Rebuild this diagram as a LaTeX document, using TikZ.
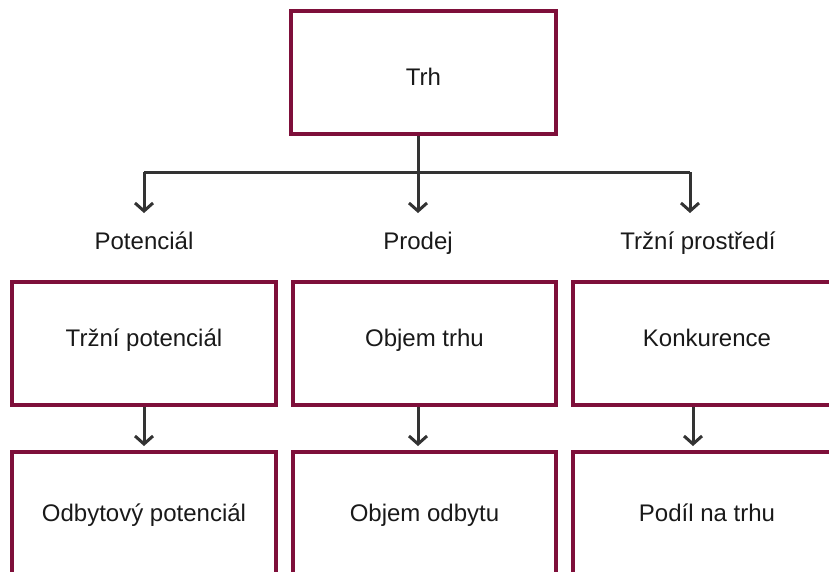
\documentclass[tikz,border=0pt]{standalone}
\usepackage{fontspec}
\setmainfont{Liberation Sans}
\usetikzlibrary{arrows.meta}
\definecolor{boxline}{RGB}{126,15,58}
\definecolor{linkgray}{RGB}{51,51,51}
\begin{document}
\begin{tikzpicture}[x=1pt,y=-1pt,
  font=\fontsize{24}{28}\selectfont,
  box/.style={draw=boxline,line width=4pt,minimum width=264pt,minimum height=123pt,inner sep=0pt,text=black!90},
  toprow/.style={text height=25pt,text depth=0pt},
  midrow/.style={text height=20pt,text depth=15pt},
  lowrow/.style={text height=20pt,text depth=5pt},
  caption/.style={inner sep=0pt,anchor=base,text=black!90},
  link/.style={draw=linkgray,line width=3pt},
  arr/.style={link,-{Straight Barb[length=8pt,width=18pt,line width=3pt]}}]
\useasboundingbox (0,0) rectangle (829,571);
\begin{scope}
\clip (0,0) rectangle (829,571);
% top box
\node[box,toprow,minimum width=265pt] (top) at (423.5,72.5) {Trh};
% branch labels
\node[caption] (l1) at (144,249) {Potenciál};
\node[caption] (l2) at (418,249) {Prodej};
\node[caption] (l3) at (698,249) {Tržní prostředí};
% second row
\node[box,midrow] (b1) at (144,343.5) {Tržní potenciál};
\node[box,midrow,minimum width=263pt] (b2) at (424.5,343.5) {Objem trhu};
\node[box,midrow,minimum width=268pt] (b3) at (707,343.5) {Konkurence};
% third row
\node[box,lowrow] (c1) at (144,513.5) {Odbytový potenciál};
\node[box,lowrow,minimum width=263pt] (c2) at (424.5,513.5) {Objem odbytu};
\node[box,lowrow,minimum width=268pt] (c3) at (707,513.5) {Podíl na trhu};
\end{scope}
% branching connectors
\coordinate (brL) at (144,172);
\coordinate (brR) at (690,172);
\coordinate (tipL) at (144,213);
\coordinate (tipM) at (418,213);
\coordinate (tipR) at (690,213);
\draw[link] (brL) -- (brR);
\draw[arr] (top.south -| tipM) -- (tipM);
\draw[arr] (brL) -- (tipL);
\draw[arr] (brR) -- (tipR);
% vertical connectors between rows
\coordinate (x1) at (144,0);
\coordinate (x2) at (418,0);
\coordinate (x3) at (693,0);
\draw[arr,shorten >=4pt] (b1.south -| x1) -- (c1.north -| x1);
\draw[arr,shorten >=4pt] (b2.south -| x2) -- (c2.north -| x2);
\draw[arr,shorten >=4pt] (b3.south -| x3) -- (c3.north -| x3);
\end{tikzpicture}
\end{document}
